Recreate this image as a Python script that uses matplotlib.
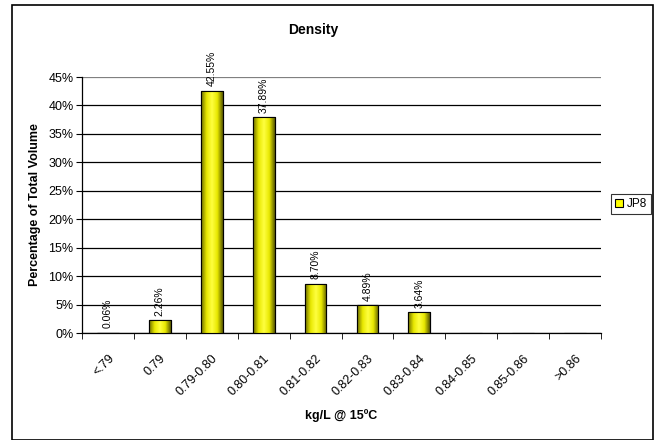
import matplotlib
matplotlib.use("Agg")
import matplotlib.pyplot as plt
import numpy as np
from matplotlib.colors import LinearSegmentedColormap
from matplotlib.patches import Rectangle

# DATA

categories = ["<.79", "0.79", "0.79-0.80", "0.80-0.81", "0.81-0.82",
              "0.82-0.83", "0.83-0.84", "0.84-0.85", "0.85-0.86", ">0.86"]
jp8_values = [0.06, 2.26, 42.55, 37.89, 8.70, 4.89, 3.64, 0, 0, 0]
label_texts = ["0.06%", "2.26%", "42.55%", "37.89%", "8.70%",
               "4.89%", "3.64%", "", "", ""]
y_ticks = [0, 5, 10, 15, 20, 25, 30, 35, 40, 45]

plt.rcParams['font.family'] = ['Liberation Sans', 'DejaVu Sans']

fig = plt.figure(figsize=(6.58, 4.40), dpi=100)
ax = fig.add_axes([82/658, 1 - 333/440, (601 - 82)/658, (333 - 77)/440])

x = np.arange(len(categories))
bars = ax.bar(x, jp8_values, width=0.42, color='#ffff00',
              edgecolor='black', linewidth=0.8, zorder=3)

# excel-like shading across each bar
shade = LinearSegmentedColormap.from_list(
    "shade", ["#6b6b00", "#e8e800", "#ffff40", "#e8e800", "#5a5a00"])
grad = np.linspace(0, 1, 64).reshape(1, -1)
for bar in bars:
    h = bar.get_height()
    if h <= 0:
        continue
    x0 = bar.get_x()
    w = bar.get_width()
    im = ax.imshow(grad, cmap=shade, aspect='auto', zorder=3.5,
                   extent=[x0, x0 + w, 0, h], interpolation='bilinear')
    im.set_clip_path(bar)
    ax.add_patch(Rectangle((x0, 0), w, h, fill=False, edgecolor='black',
                           linewidth=0.8, zorder=4))

for xi, val, txt in zip(x, jp8_values, label_texts):
    if txt:
        ax.text(xi, val + 0.8, txt, rotation=90, ha='center', va='bottom',
                fontsize=7.5, zorder=5)

ax.set_xlim(-0.5, len(categories) - 0.5)
ax.set_ylim(0, 45)
ax.set_yticks(y_ticks)
ax.set_yticklabels([f"{t}%" for t in y_ticks], fontsize=9)
ax.set_xticks(x)
ax.set_xticklabels(categories, rotation=45, ha='right',
                   rotation_mode='anchor', fontsize=9)
ax.tick_params(axis='x', length=0, pad=14)
ax.set_xticks(np.arange(-0.5, len(categories), 1), minor=True)
ax.tick_params(axis='x', which='minor', length=4, direction='out')
ax.tick_params(axis='y', length=4, direction='out', pad=2)

ax.grid(axis='y', color='black', linewidth=0.9, zorder=0)
gl = ax.get_ygridlines()
gl[-1].set_color('#808080')
for s in ['top', 'right']:
    ax.spines[s].set_visible(False)
ax.spines['left'].set_linewidth(0.9)
ax.spines['bottom'].set_linewidth(0.9)
ax.set_axisbelow(True)

ax.set_ylim(0, 45)
ax.set_xlim(-0.5, len(categories) - 0.5)

fig.text(313/658, 1 - 30/440, "Density", ha='center', va='center',
         fontsize=10, fontweight='bold')
fig.text(35/658, 1 - 205/440, "Percentage of Total Volume", rotation=90,
         ha='center', va='center', fontsize=9, fontweight='bold')
fig.text(341/658, 1 - 416/440, "kg/L @ 15ºC", ha='center', va='center',
         fontsize=9, fontweight='bold')

leg = ax.legend([bars], ["JP8"], loc='center left',
                bbox_to_anchor=(611/658, 1 - 204/440),
                bbox_transform=fig.transFigure, fontsize=8.5,
                frameon=True, fancybox=False, edgecolor='black',
                handlelength=0.7, handleheight=0.7, handletextpad=0.3,
                borderpad=0.35, borderaxespad=0)
leg.get_frame().set_linewidth(0.8)

# chart border
fig.patches.append(Rectangle((12/658, 0), (653 - 12)/658, 1 - 5/440,
                             transform=fig.transFigure, fill=False,
                             edgecolor='black', linewidth=1.2))

plt.savefig("out.png", dpi=100)
